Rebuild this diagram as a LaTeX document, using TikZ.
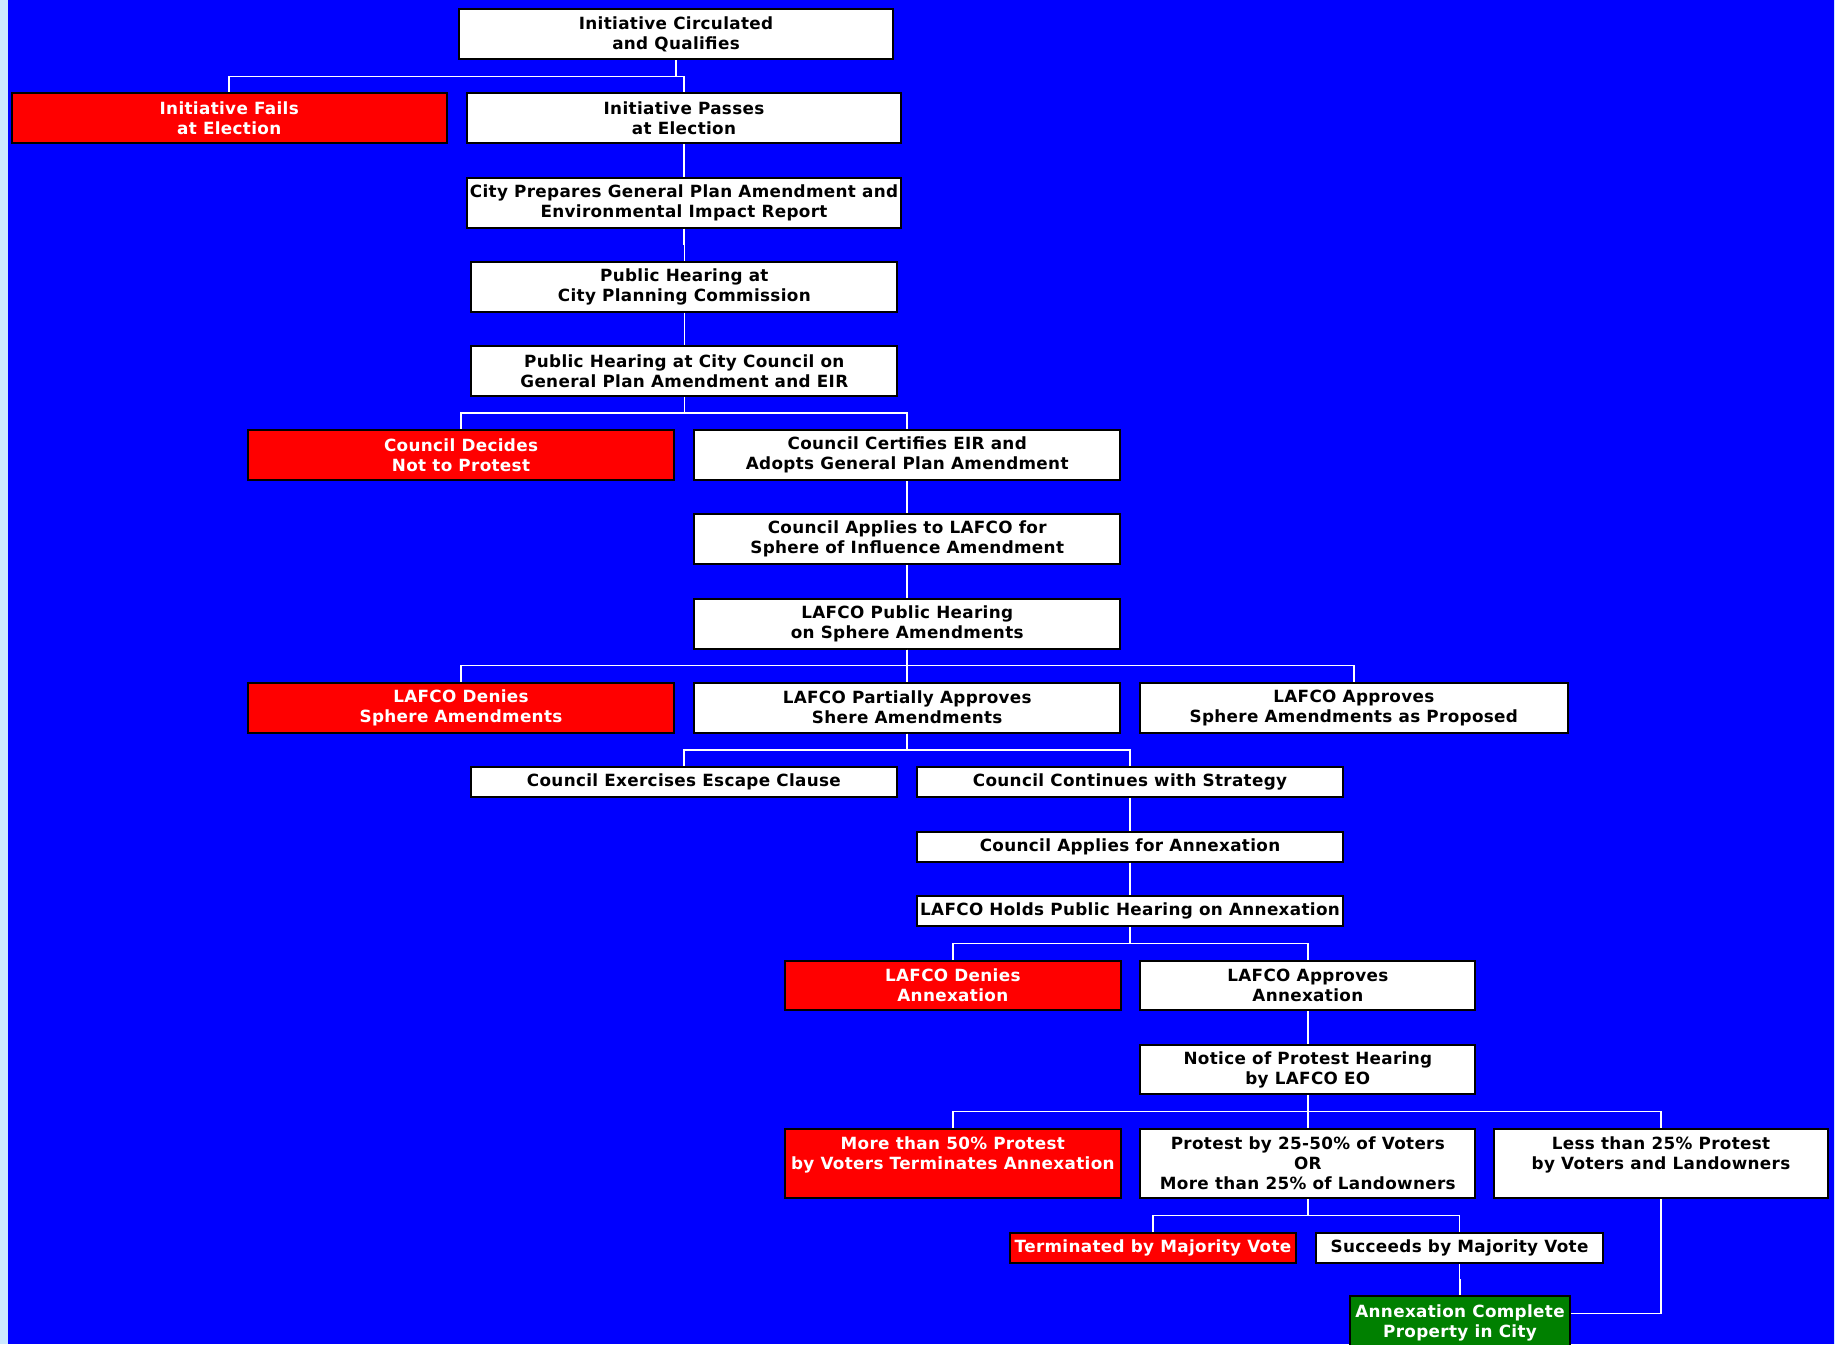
\documentclass[tikz,border=0pt]{standalone}
\usepackage{fontspec}
\setmainfont{DejaVu Sans}[LetterSpace=2]
\usetikzlibrary{calc}
\definecolor{bgblue}{RGB}{0,0,255}
\definecolor{strip}{RGB}{204,232,255}
\definecolor{okgreen}{RGB}{0,128,0}
\newcommand\boxfont{\fontsize{16.8}{20}\selectfont\bfseries}
\tikzset{
  wbox/.style={draw=black, line width=2pt, fill=white, text=black, inner sep=0pt, align=center, font=\boxfont},
  rbox/.style={wbox, fill=red, text=white},
  gbox/.style={wbox, fill=okgreen, text=white},
  conn/.style={draw=white, line width=1.5pt},
}
\newcommand\branch[2]{\draw[conn] (#1.south) |- ($(#1.south)!0.5!(#2.north)$) -| (#2.north);}
\begin{document}
\begin{tikzpicture}[x=1pt,y=-1pt]
\useasboundingbox (0,0) rectangle (1835,1344);
\clip (0,0) rectangle (1835,1344);
\fill[bgblue] (0,0) rectangle (1835,1344);
\fill[strip] (0,0) rectangle (8,1344);
\fill[strip] (1833.5,0) rectangle (1835,1344);

% nodes
\node[wbox, minimum width=434pt, minimum height=50pt] (n1) at (676,34.2) {Initiative Circulated\\and Qualifies};
\node[rbox, minimum width=435pt, minimum height=50pt] (n2) at (229.2,118.3) {Initiative Fails\\at Election};
\node[wbox, minimum width=434pt, minimum height=50pt] (n3) at (684,118.3) {Initiative Passes\\at Election};
\node[wbox, minimum width=434pt, minimum height=50pt] (n4) at (684,202.5) {City Prepares General Plan Amendment and\\Environmental Impact Report};
\node[wbox, minimum width=426pt, minimum height=50pt] (n5) at (684.3,286.7) {Public Hearing at\\City Planning Commission};
\node[wbox, minimum width=426pt, minimum height=50pt] (n6) at (684.3,370.8) {Public Hearing at City Council on\\General Plan Amendment and EIR};
\node[rbox, minimum width=426pt, minimum height=50pt] (n7) at (461,455.2) {Council Decides\\Not to Protest};
\node[wbox, minimum width=426pt, minimum height=50pt] (n8) at (907.2,455.2) {Council Certifies EIR and\\Adopts General Plan Amendment};
\node[wbox, minimum width=426pt, minimum height=50pt] (n9) at (907.2,539.3) {Council Applies to LAFCO for\\Sphere of Influence Amendment};
\node[wbox, minimum width=426pt, minimum height=50pt] (n10) at (907.2,623.5) {LAFCO Public Hearing\\on Sphere Amendments};
\node[rbox, minimum width=426pt, minimum height=50pt] (n11) at (461,707.7) {LAFCO Denies\\Sphere Amendments};
\node[wbox, minimum width=426pt, minimum height=50pt] (n12) at (907.2,707.7) {LAFCO Partially Approves\\Shere Amendments};
\node[wbox, minimum width=428pt, minimum height=50pt] (n13) at (1353.8,707.7) {LAFCO Approves\\Sphere Amendments as Proposed};
\node[wbox, minimum width=426pt, minimum height=30.5pt] (n14) at (683.9,782.2) {Council Exercises Escape Clause};
\node[wbox, minimum width=426pt, minimum height=30.5pt] (n15) at (1130,782.2) {Council Continues with Strategy};
\node[wbox, minimum width=426pt, minimum height=30pt] (n16) at (1130,846.5) {Council Applies for Annexation};
\node[wbox, minimum width=426pt, minimum height=30pt] (n17) at (1130,911) {LAFCO Holds Public Hearing on Annexation};
\node[rbox, minimum width=335.5pt, minimum height=49.5pt] (n18) at (952.8,985.5) {LAFCO Denies\\Annexation};
\node[wbox, minimum width=335pt, minimum height=49.5pt] (n19) at (1307.8,985.5) {LAFCO Approves\\Annexation};
\node[wbox, minimum width=335pt, minimum height=49.5pt] (n20) at (1307.8,1069.7) {Notice of Protest Hearing\\by LAFCO EO};
\node[rbox, minimum width=335.5pt, minimum height=69.5pt] (n21) at (952.8,1163.5) {More than 50\% Protest\\by Voters Terminates Annexation\\~};
\node[wbox, minimum width=335pt, minimum height=69.5pt] (n22) at (1307.8,1163.5) {Protest by 25-50\% of Voters\\OR\\More than 25\% of Landowners};
\node[wbox, minimum width=334.5pt, minimum height=69.5pt] (n23) at (1661,1163.5) {Less than 25\% Protest\\by Voters and Landowners\\~};
\node[rbox, minimum width=286pt, minimum height=30.5pt] (n24) at (1153,1247.8) {Terminated by Majority Vote};
\node[wbox, minimum width=286.5pt, minimum height=30.5pt] (n25) at (1459.5,1247.8) {Succeeds by Majority Vote};
\node[gbox, minimum width=219.5pt, minimum height=54pt] (n26) at (1460,1323.3) {Annexation Complete\\Property in City};

% connectors
\branch{n1}{n2}
\branch{n1}{n3}
\branch{n3}{n4}
\branch{n4}{n5}
\branch{n5}{n6}
\branch{n6}{n7}
\branch{n6}{n8}
\branch{n8}{n9}
\branch{n9}{n10}
\branch{n10}{n11}
\branch{n10}{n12}
\branch{n10}{n13}
\branch{n12}{n14}
\branch{n12}{n15}
\branch{n15}{n16}
\branch{n16}{n17}
\branch{n17}{n18}
\branch{n17}{n19}
\branch{n19}{n20}
\branch{n20}{n21}
\branch{n20}{n22}
\branch{n20}{n23}
\branch{n22}{n24}
\branch{n22}{n25}
\branch{n25}{n26}
\draw[conn] (n23.south) |- ([yshift=10pt]n26.east);
\end{tikzpicture}
\end{document}
